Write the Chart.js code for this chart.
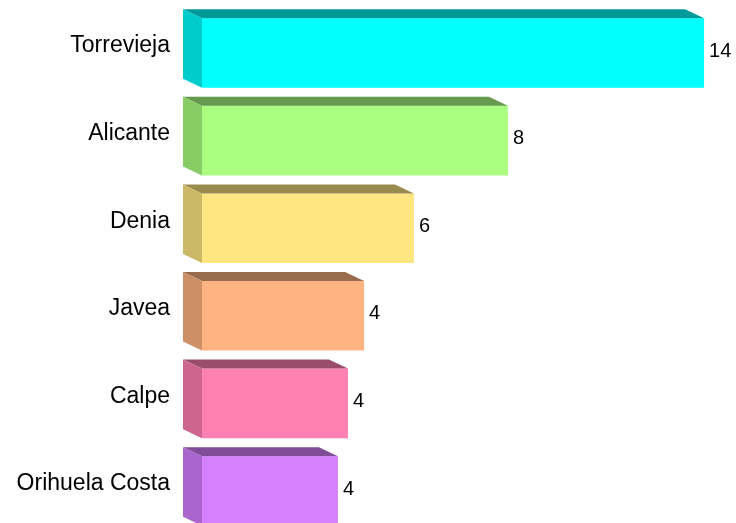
<!DOCTYPE html>
<html>
<head>
<meta charset="utf-8">
<script src="https://cdn.jsdelivr.net/npm/chart.js@4"></script>
<style>
  html, body { margin: 0; padding: 0; background: #fff; overflow: hidden; }
  #wrap { width: 736px; height: 523px; overflow: hidden; }
</style>
</head>
<body>
<div id="wrap"><canvas id="chart" width="736" height="540"></canvas></div>
<script>
const towns = ['Torrevieja', 'Alicante', 'Denia', 'Javea', 'Calpe', 'Orihuela Costa'];
const counts = [14, 8.53, 5.91, 4.52, 4.07, 3.79];
const shownCounts = ['14', '8', '6', '4', '4', '4'];
const frontColors = ['#00ffff', '#aaff80', '#ffe680', '#ffb380', '#ff80b3', '#d580ff'];

const FONT = '"Liberation Sans", Arial, sans-serif';

function shade(hex, f) {
    const n = parseInt(hex.slice(1), 16);
    const r = Math.round(((n >> 16) & 255) * f);
    const g = Math.round(((n >> 8) & 255) * f);
    const b = Math.round((n & 255) * f);
    return `rgb(${r},${g},${b})`;
}

// draws the top and left faces so the bars look like boxes, plus value labels
const boxPlugin = {
    id: 'box3d',
    afterDatasetsDraw(chart) {
        const ctx = chart.ctx;
        const meta = chart.getDatasetMeta(0);
        const dx = 19, dy = 9;
        ctx.save();
        meta.data.forEach((bar, i) => {
            const p = bar.getProps(['x', 'y', 'base', 'height'], true);
            const top = p.y - p.height / 2;
            const bottom = p.y + p.height / 2;
            const left = p.base, right = p.x;

            ctx.fillStyle = shade(frontColors[i], 0.6);
            ctx.beginPath();
            ctx.moveTo(left - dx, top - dy);
            ctx.lineTo(right - dx, top - dy);
            ctx.lineTo(right, top);
            ctx.lineTo(left, top);
            ctx.closePath();
            ctx.fill();

            ctx.fillStyle = shade(frontColors[i], 0.8);
            ctx.beginPath();
            ctx.moveTo(left - dx, top - dy);
            ctx.lineTo(left, top);
            ctx.lineTo(left, bottom);
            ctx.lineTo(left - dx, bottom - dy);
            ctx.closePath();
            ctx.fill();

            ctx.fillStyle = '#000';
            ctx.font = '20px ' + FONT;
            ctx.textAlign = 'left';
            ctx.textBaseline = 'middle';
            ctx.fillText(shownCounts[i], right + 5, p.y - 2);
        });
        ctx.restore();
    }
};

new Chart(document.getElementById('chart'), {
    type: 'bar',
    data: {
        labels: towns,
        datasets: [{
            data: counts,
            backgroundColor: frontColors,
            borderWidth: 0,
            categoryPercentage: 1,
            barPercentage: 0.795
        }]
    },
    options: {
        indexAxis: 'y',
        responsive: false,
        animation: false,
        layout: { padding: { top: 9.2, bottom: 5.2, left: 0, right: 0 } },
        plugins: { legend: { display: false }, tooltip: { enabled: false } },
        scales: {
            x: { display: false, min: 0, max: 14.89 },
            y: {
                grid: { display: false, drawTicks: false },
                border: { display: false },
                ticks: {
                    color: '#000',
                    font: { family: FONT, size: 23 },
                    padding: 32,
                    labelOffset: -7
                },
                afterFit: s => {
                    s.width = 202;
                    s.paddingTop = 0;
                    s.paddingBottom = 0;
                }
            }
        }
    },
    plugins: [boxPlugin]
});
</script>
</body>
</html>
